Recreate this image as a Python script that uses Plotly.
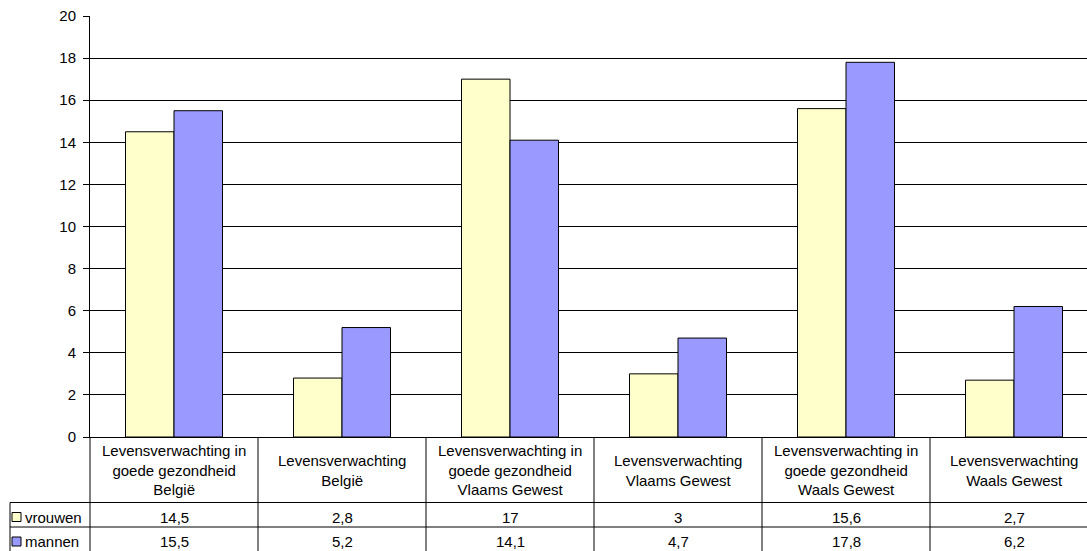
import plotly.graph_objects as go

categories = [
    "Levensverwachting in<br>goede gezondheid<br>België",
    "Levensverwachting<br>België",
    "Levensverwachting in<br>goede gezondheid<br>Vlaams Gewest",
    "Levensverwachting<br>Vlaams Gewest",
    "Levensverwachting in<br>goede gezondheid<br>Waals Gewest",
    "Levensverwachting<br>Waals Gewest",
]
series_names = ["vrouwen", "mannen"]
vrouwen = [14.5, 2.8, 17, 3, 15.6, 2.7]
mannen = [15.5, 5.2, 14.1, 4.7, 17.8, 6.2]
table_labels = {
    "vrouwen": ["14,5", "2,8", "17", "3", "15,6", "2,7"],
    "mannen": ["15,5", "5,2", "14,1", "4,7", "17,8", "6,2"],
}
y_ticks = list(range(0, 21, 2))

colors = {"vrouwen": "#FFFFCC", "mannen": "#9999FF"}

W, H = 1087, 551
ML, MR, MT, MB = 90, 0, 16, 114
PW, PH = W - ML - MR, H - MT - MB
XR = [-0.5, 5.4345]
FONT = "Liberation Sans, Arial, sans-serif"
FS = 15

def px_x(p):
    return (p - ML) / PW

def px_y(p):
    return (H - MB - p) / PH

def dx(v):
    return (v - XR[0]) / (XR[1] - XR[0])

xs = list(range(len(categories)))

fig = go.Figure()
for name, vals in zip(series_names, [vrouwen, mannen]):
    fig.add_trace(go.Bar(
        x=xs, y=vals, name=name,
        marker=dict(color=colors[name], line=dict(color="#000000", width=1)),
        showlegend=False, hoverinfo="skip",
    ))

shapes = []
line = dict(color="#000000", width=1)
# table horizontal lines
for p in [502.5, 527]:
    shapes.append(dict(type="line", xref="paper", yref="paper",
                       x0=px_x(10), x1=1, y0=px_y(p), y1=px_y(p), line=line))
# vertical separators
for b in [-0.5, 0.5, 1.5, 2.5, 3.5, 4.5]:
    shapes.append(dict(type="line", xref="paper", yref="paper",
                       x0=dx(b), x1=dx(b), y0=0, y1=px_y(552), line=line))
shapes.append(dict(type="line", xref="paper", yref="paper",
                   x0=px_x(10), x1=px_x(10), y0=px_y(502.5), y1=px_y(552), line=line))
# legend keys
annotations = []
for name, cy in zip(series_names, [517, 541.5]):
    shapes.append(dict(type="rect", xref="paper", yref="paper",
                       x0=px_x(12), x1=px_x(21), y0=px_y(cy - 4.5), y1=px_y(cy + 4.5),
                       fillcolor=colors[name], line=dict(color="#000000", width=1)))
    annotations.append(dict(xref="paper", yref="paper", x=px_x(23), y=px_y(cy),
                            text=name, showarrow=False, xanchor="left", yanchor="middle",
                            font=dict(family=FONT, size=FS, color="#000000")))
    for i in xs:
        annotations.append(dict(xref="paper", yref="paper", x=dx(i), y=px_y(cy),
                                text=table_labels[name][i], showarrow=False,
                                xanchor="center", yanchor="middle",
                                font=dict(family=FONT, size=FS, color="#000000")))
for i, c in enumerate(categories):
    annotations.append(dict(xref="paper", yref="paper", x=dx(i), y=px_y(470),
                            text=c, showarrow=False, xanchor="center", yanchor="middle",
                            align="center",
                            font=dict(family=FONT, size=FS, color="#000000")))

fig.update_layout(
    width=W, height=H,
    margin=dict(l=ML, r=MR, t=MT, b=MB, pad=0),
    paper_bgcolor="#FFFFFF", plot_bgcolor="#FFFFFF",
    barmode="group", bargap=0.4226, bargroupgap=0,
    font=dict(family=FONT, size=FS, color="#000000"),
    shapes=shapes, annotations=annotations,
    xaxis=dict(range=XR, showticklabels=False, showgrid=False, zeroline=False,
               showline=True, linecolor="#000000", linewidth=1, ticks=""),
    yaxis=dict(range=[0, 20], tickvals=y_ticks, showgrid=True, gridcolor="#000000",
               gridwidth=1, zeroline=False, showline=True, linecolor="#000000",
               linewidth=1, ticks="outside", ticklen=6, tickcolor="#000000",
               ticklabelstandoff=4,
               tickfont=dict(family=FONT, size=FS, color="#000000")),
)

fig.write_html(
    "out.html",
    config={"displayModeBar": False},
    post_script="document.body.style.margin='0';document.body.style.overflow='hidden';",
)
